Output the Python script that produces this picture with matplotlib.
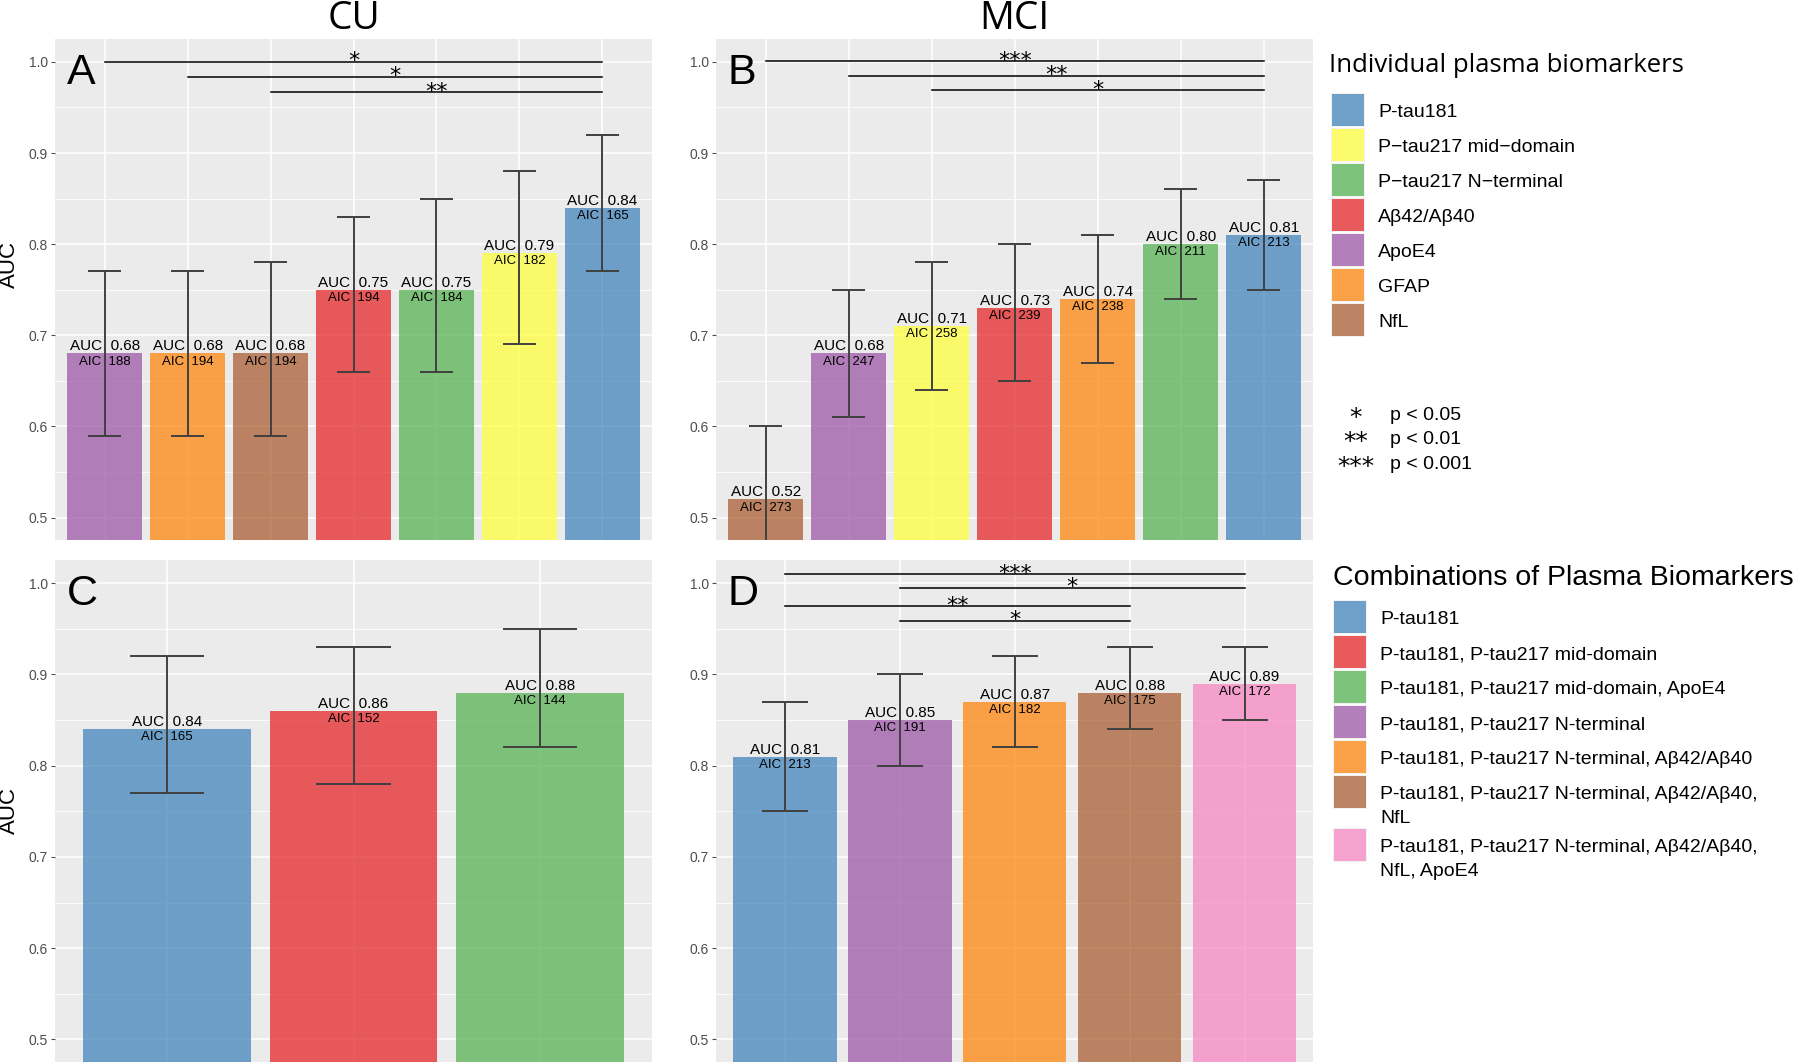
import numpy as np
import matplotlib
matplotlib.use("Agg")
import matplotlib.pyplot as plt
from matplotlib.patches import Rectangle
from matplotlib.ticker import FormatStrFormatter

plt.rcParams['font.family'] = ['Liberation Sans', 'DejaVu Sans']

# Set1 palette (drawn with alpha 0.7 like the original ggplot)
BLUE, RED, GREEN, PURPLE = '#377EB8', '#E41A1C', '#4DAF4A', '#984EA3'
ORANGE, YELLOW, BROWN, PINK = '#FF7F00', '#FFFF33', '#A65628', '#F781BF'

# ---- data -------------------------------------------------------------
# A: CU, individual markers
cu_names = ['ApoE4', 'GFAP', 'NfL', 'Aβ42/Aβ40', 'P-tau217 N-terminal',
            'P-tau217 mid-domain', 'P-tau181']
cu_auc = [0.68, 0.68, 0.68, 0.75, 0.75, 0.79, 0.84]
cu_lo = [0.59, 0.59, 0.59, 0.66, 0.66, 0.69, 0.77]
cu_hi = [0.77, 0.77, 0.78, 0.83, 0.85, 0.88, 0.92]
cu_aic = [188, 194, 194, 194, 184, 182, 165]
cu_sig = [(0, 6, '*', 1.000), (1, 6, '*', 0.9835), (2, 6, '**', 0.967)]

# B: MCI, individual markers
mci_names = ['NfL', 'ApoE4', 'P-tau217 mid-domain', 'Aβ42/Aβ40', 'GFAP',
             'P-tau217 N-terminal', 'P-tau181']
mci_auc = [0.52, 0.68, 0.71, 0.73, 0.74, 0.80, 0.81]
mci_lo = [0.44, 0.61, 0.64, 0.65, 0.67, 0.74, 0.75]
mci_hi = [0.60, 0.75, 0.78, 0.80, 0.81, 0.86, 0.87]
mci_aic = [273, 247, 258, 239, 238, 211, 213]
mci_sig = [(0, 6, '***', 1.001), (1, 6, '**', 0.985), (2, 6, '*', 0.969)]

# C: CU, combinations
cu_comb_names = ['P-tau181', 'P-tau181, P-tau217 mid-domain',
                 'P-tau181, P-tau217 mid-domain, ApoE4']
cu_comb_auc = [0.84, 0.86, 0.88]
cu_comb_lo = [0.77, 0.78, 0.82]
cu_comb_hi = [0.92, 0.93, 0.95]
cu_comb_aic = [165, 152, 144]
cu_comb_sig = []

# D: MCI, combinations
mci_comb_names = ['P-tau181', 'P-tau181, P-tau217 N-terminal',
                  'P-tau181, P-tau217 N-terminal, Aβ42/Aβ40',
                  'P-tau181, P-tau217 N-terminal, Aβ42/Aβ40, NfL',
                  'P-tau181, P-tau217 N-terminal, Aβ42/Aβ40, NfL, ApoE4']
mci_comb_auc = [0.81, 0.85, 0.87, 0.88, 0.89]
mci_comb_lo = [0.75, 0.80, 0.82, 0.84, 0.85]
mci_comb_hi = [0.87, 0.90, 0.92, 0.93, 0.93]
mci_comb_aic = [213, 191, 182, 175, 172]
mci_comb_sig = [(0, 4, '***', 1.010), (1, 4, '*', 0.995),
                (0, 3, '**', 0.975), (1, 3, '*', 0.959)]

ind_colors = {'P-tau181': BLUE, 'P-tau217 mid-domain': YELLOW,
              'P-tau217 N-terminal': GREEN, 'Aβ42/Aβ40': RED,
              'ApoE4': PURPLE, 'GFAP': ORANGE, 'NfL': BROWN}
ind_legend = ['P-tau181', 'P-tau217 mid-domain', 'P-tau217 N-terminal',
              'Aβ42/Aβ40', 'ApoE4', 'GFAP', 'NfL']
ind_legend_text = ['P-tau181', 'P\u2212tau217 mid\u2212domain',
                   'P\u2212tau217 N\u2212terminal', 'Aβ42/Aβ40', 'ApoE4',
                   'GFAP', 'NfL']

comb_legend = ['P-tau181', 'P-tau181, P-tau217 mid-domain',
               'P-tau181, P-tau217 mid-domain, ApoE4',
               'P-tau181, P-tau217 N-terminal',
               'P-tau181, P-tau217 N-terminal, Aβ42/Aβ40',
               'P-tau181, P-tau217 N-terminal, Aβ42/Aβ40,\nNfL',
               'P-tau181, P-tau217 N-terminal, Aβ42/Aβ40,\nNfL, ApoE4']
comb_colors = [BLUE, RED, GREEN, PURPLE, ORANGE, BROWN, PINK]
comb_color_map = dict(zip([s.replace('\n', ' ') for s in comb_legend], comb_colors))

sig_symbols = ['*', '**', '***']
sig_text = ['p < 0.05', 'p < 0.01', 'p < 0.001']

YLIM = (0.4753, 1.0255)


def draw_panel(ax, auc, lo, hi, aic, colors, sig, letter):
    x = np.arange(len(auc))
    ax.set_facecolor('#EBEBEB')
    for s in ax.spines.values():
        s.set_visible(False)
    ax.set_xlim(-0.6, len(auc) - 0.4)
    ax.set_ylim(*YLIM)
    ax.set_yticks(np.arange(0.5, 1.01, 0.1))
    ax.set_yticks(np.arange(0.55, 1.0, 0.1), minor=True)
    ax.yaxis.set_major_formatter(FormatStrFormatter('%.1f'))
    ax.set_xticks(x)
    ax.set_xticklabels([])
    ax.tick_params(axis='x', length=0)
    ax.tick_params(axis='y', which='major', labelsize=10, labelcolor='#4D4D4D',
                   color='#4D4D4D', length=3, width=0.8, pad=2)
    ax.tick_params(axis='y', which='minor', length=0)
    ax.grid(which='major', color='white', lw=1.1)
    ax.grid(which='minor', axis='y', color='white', lw=0.55)
    ax.set_axisbelow(True)

    ax.bar(x, auc, width=0.9, color=colors, alpha=0.7, zorder=2)
    ax.vlines(x, lo, hi, color='#404040', lw=1.4, zorder=3)
    ax.hlines(lo, x - 0.2, x + 0.2, color='#404040', lw=1.4, zorder=3)
    ax.hlines(hi, x - 0.2, x + 0.2, color='#404040', lw=1.4, zorder=3)

    for xi, a, c in zip(x, auc, aic):
        ax.annotate(f'AUC  {a:.2f}', (xi, a), xytext=(0, 2.2),
                    textcoords='offset points', ha='center', va='baseline',
                    fontsize=11, zorder=4)
        ax.annotate(f'AIC  {c}', (xi, a), xytext=(0, -1.6),
                    textcoords='offset points', ha='center', va='top',
                    fontsize=9.5, zorder=4)

    for i, j, s, y in sig:
        ax.plot([i, j], [y, y], color='black', lw=1.1, zorder=4)
        ax.annotate(s, ((i + j) / 2, y), xytext=(0, -4),
                    textcoords='offset points', ha='center', va='baseline',
                    fontsize=16, family='DejaVu Sans', zorder=4)

    ax.text(0.02, 0.972, letter, transform=ax.transAxes, ha='left', va='top',
            fontsize=31)


fig = plt.figure(figsize=(18, 10.62), dpi=100)

ax_a = fig.add_axes([0.03056, 0.4915, 0.3317, 0.4721])
ax_b = fig.add_axes([0.3978, 0.4915, 0.3319, 0.4721])
ax_c = fig.add_axes([0.03056, 0.0, 0.3317, 0.4727])
ax_d = fig.add_axes([0.3978, 0.0, 0.3319, 0.4727])

draw_panel(ax_a, cu_auc, cu_lo, cu_hi, cu_aic,
           [ind_colors[n] for n in cu_names], cu_sig, 'A')
draw_panel(ax_b, mci_auc, mci_lo, mci_hi, mci_aic,
           [ind_colors[n] for n in mci_names], mci_sig, 'B')
draw_panel(ax_c, cu_comb_auc, cu_comb_lo, cu_comb_hi, cu_comb_aic,
           [comb_color_map[n] for n in cu_comb_names], cu_comb_sig, 'C')
draw_panel(ax_d, mci_comb_auc, mci_comb_lo, mci_comb_hi, mci_comb_aic,
           [comb_color_map[n] for n in mci_comb_names], mci_comb_sig, 'D')

ax_a.set_title('CU', fontsize=28, family='Open Sans', pad=7)
ax_b.set_title('MCI', fontsize=28, family='Open Sans', pad=7)
for ax, yc in [(ax_a, 0.55), (ax_c, 0.50)]:
    ax.set_ylabel('AUC', fontsize=16)
    ax.yaxis.set_label_coords(-0.058, yc)

# ---- legends (pixel coordinates overlay) ------------------------------
lax = fig.add_axes([0, 0, 1, 1])
lax.set_xlim(0, 1800)
lax.set_ylim(1062, 0)
lax.axis('off')

lax.text(1329, 72, 'Individual plasma biomarkers', fontsize=18.5,
         family='Open Sans', va='baseline', ha='left')
for k, (name, lab) in enumerate(zip(ind_legend, ind_legend_text)):
    top = 94 + 35 * k
    lax.add_patch(Rectangle((1331, top - 1), 34, 34, facecolor='#F2F2F2',
                            edgecolor='none'))
    lax.add_patch(Rectangle((1332, top), 32, 32, facecolor=ind_colors[name],
                            alpha=0.7, edgecolor='none'))
    lax.text(1378, top + 16 + 7, lab, fontsize=14, va='baseline', ha='left')

for k, (sym, txt) in enumerate(zip(sig_symbols, sig_text)):
    yc = 413 + 24.5 * k
    lax.text(1356, yc + 12, sym, fontsize=18, family='DejaVu Sans',
             ha='center', va='baseline')
    lax.text(1390, yc + 7, txt, fontsize=14, ha='left', va='baseline')

lax.text(1333, 585, 'Combinations of Plasma Biomarkers', fontsize=20.5,
         va='baseline', ha='left')
top = 601
for lab, col in zip(comb_legend, comb_colors):
    lax.add_patch(Rectangle((1333, top - 1), 34, 34, facecolor='#F2F2F2',
                            edgecolor='none'))
    lax.add_patch(Rectangle((1334, top), 32, 32, facecolor=col, alpha=0.7,
                            edgecolor='none'))
    lines = lab.split('\n')
    for j, line in enumerate(lines):
        lax.text(1380, top + 16 + 7 + 24 * j, line, fontsize=14,
                 va='baseline', ha='left')
    top += 35 + 18 * (len(lines) - 1)

fig.savefig('out.png', dpi=100)
